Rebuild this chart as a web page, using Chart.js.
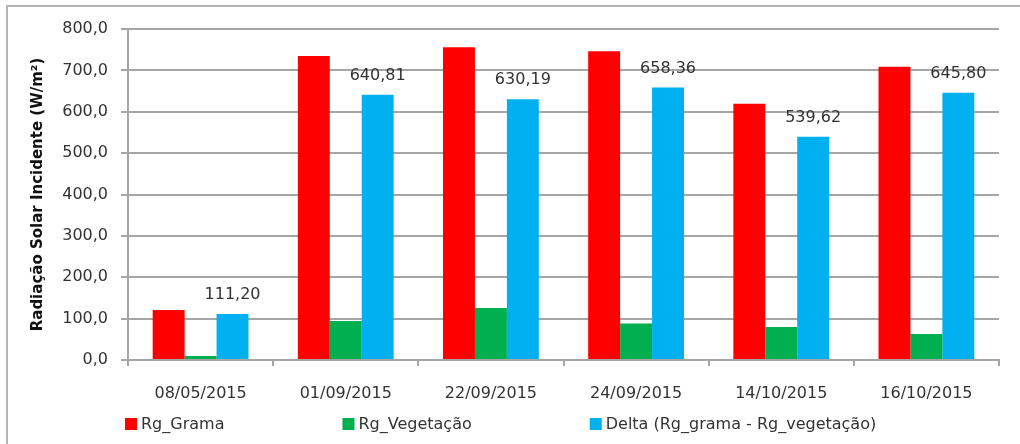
<!DOCTYPE html>
<html lang="pt">
<head>
  <meta charset="UTF-8">
  <title>Radiação Solar Incidente</title>
  <script src="https://cdn.jsdelivr.net/npm/chart.js"></script>
  <style>
    body {
      margin: 0;
      padding: 0;
      background-color: #fff;
    }

    #chartBox {
      position: relative;
      width: 1020px;
      height: 444px;
    }
  </style>
</head>
<body>
  <div id="chartBox">
    <canvas id="radChart"></canvas>
  </div>

  <script>
    const datas = ['08/05/2015', '01/09/2015', '22/09/2015', '24/09/2015', '14/10/2015', '16/10/2015'];
    const rgGrama = [121.0, 734.8, 756.0, 746.4, 619.6, 708.8];
    const rgVegetacao = [9.8, 94.0, 125.8, 88.0, 80.0, 63.0];
    const delta = [111.20, 640.81, 630.19, 658.36, 539.62, 645.80];

    const FONT = 'DejaVu Sans';
    const TEXT = '#333';
    const GRID = '#a6a6a6';

    const virgula = (v, casas) => v.toFixed(casas).replace('.', ',');

    // frame line (top and left edges) around the chart
    const frame = {
      id: 'frame',
      beforeDraw(chart) {
        const c = chart.ctx;
        c.save();
        c.strokeStyle = '#b4b4b4';
        c.lineWidth = 2;
        c.beginPath();
        c.moveTo(7, 444);
        c.lineTo(7, 6);
        c.lineTo(1020, 6);
        c.stroke();
        c.restore();
      }
    };

    // value labels above the Delta bars
    const rotulos = {
      id: 'rotulos',
      afterDatasetsDraw(chart) {
        const c = chart.ctx;
        const meta = chart.getDatasetMeta(2);
        c.save();
        c.font = '16px ' + FONT;
        c.fillStyle = TEXT;
        c.textAlign = 'center';
        c.textBaseline = 'middle';
        meta.data.forEach((bar, i) => {
          c.fillText(virgula(delta[i], 2), bar.x, bar.y - 19);
        });
        c.restore();
      }
    };

    // legend row under the axis, wide spacing between entries
    const legenda = {
      id: 'legenda',
      afterDraw(chart) {
        const c = chart.ctx;
        const y = 424;
        let x = chart.chartArea.left - 3;
        c.save();
        c.font = '16px ' + FONT;
        c.textBaseline = 'middle';
        chart.data.datasets.forEach(ds => {
          c.fillStyle = ds.backgroundColor;
          c.fillRect(x, y - 6, 12, 12);
          c.fillStyle = TEXT;
          c.fillText(ds.label, x + 16, y + 1);
          x += 16 + c.measureText(ds.label).width + 118;
        });
        c.restore();
      }
    };

    const ctx = document.getElementById('radChart').getContext('2d');
    const radChart = new Chart(ctx, {
      type: 'bar',
      data: {
        labels: datas,
        datasets: [
          { label: 'Rg_Grama', data: rgGrama, backgroundColor: '#ff0000' },
          { label: 'Rg_Vegetação', data: rgVegetacao, backgroundColor: '#00b050' },
          { label: 'Delta (Rg_grama - Rg_vegetação)', data: delta, backgroundColor: '#00b0f0' }
        ]
      },
      options: {
        responsive: true,
        maintainAspectRatio: false,
        animation: false,
        categoryPercentage: 0.66,
        barPercentage: 1.0,
        layout: {
          padding: { left: 0, right: 21, top: 29, bottom: 44 }
        },
        plugins: {
          legend: { display: false },
          tooltip: { enabled: false }
        },
        scales: {
          x: {
            afterFit(axis) { axis.height = 40; },
            grid: {
              offset: true,
              drawOnChartArea: false,
              drawTicks: true,
              tickLength: 6,
              color: GRID,
              lineWidth: 2
            },
            border: { color: GRID, width: 2 },
            ticks: {
              color: TEXT,
              font: { family: FONT, size: 16 },
              padding: 18,
              maxRotation: 0
            }
          },
          y: {
            min: 0,
            max: 800,
            afterFit(axis) { axis.width = 128; },
            grid: {
              color: GRID,
              lineWidth: 2,
              tickLength: 7
            },
            border: { color: GRID, width: 2 },
            ticks: {
              stepSize: 100,
              color: TEXT,
              font: { family: FONT, size: 16 },
              padding: 13,
              callback: v => virgula(v, 1)
            },
            title: {
              display: true,
              text: 'Radiação Solar Incidente (W/m²)',
              color: '#111',
              font: { family: FONT, size: 15, weight: 'bold' },
              padding: { top: 29, bottom: 0 }
            }
          }
        }
      },
      plugins: [frame, rotulos, legenda]
    });
  </script>
</body>
</html>
